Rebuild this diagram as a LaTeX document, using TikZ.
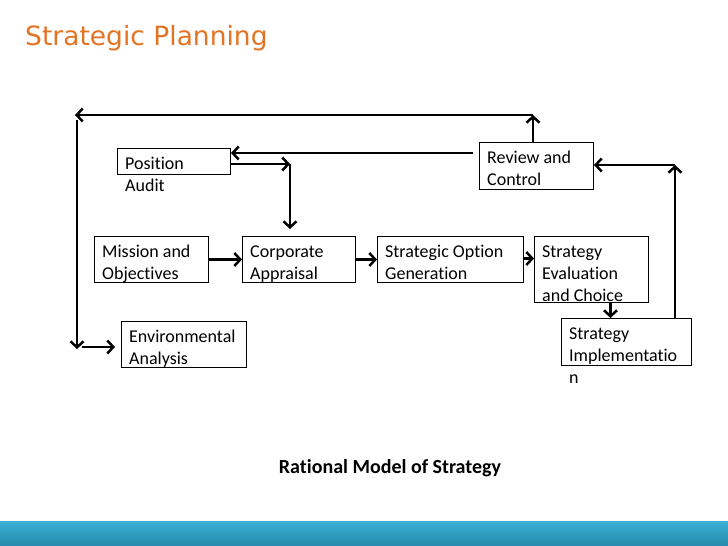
\documentclass[tikz,border=0pt]{standalone}
\usepackage{fontspec}
\setmainfont{Carlito}[Ligatures=CommonOff]
\newfontfamily\titlefont{DejaVu Sans}
\usetikzlibrary{arrows.meta, calc}
\definecolor{titleorange}{RGB}{228,116,36}
\definecolor{barlight}{RGB}{58,178,214}
\definecolor{bardark}{RGB}{38,138,172}
\newcommand{\boxfont}{\fontsize{18}{22}\selectfont}
\newcommand{\ftop}{\rule{0pt}{15pt}}
\tikzset{
  box/.style={draw, line width=1pt, anchor=north west, inner sep=0pt},
  boxtxt/.style={font=\boxfont, align=left, inner sep=0pt, anchor=north west, xshift=8pt, yshift=-6pt},
  arr/.style={line width=2.5pt, -{Straight Barb[length=6pt, width=13pt, line width=2.5pt]}}
}
\begin{document}
\begin{tikzpicture}[x=1pt, y=-1pt]
  \useasboundingbox (0,0) rectangle (728,546);
  \fill[white] (0,0) rectangle (728,546);
  \shade[top color=barlight, bottom color=bardark] (0,521) rectangle (728,546);

  \node[anchor=base west, inner sep=0pt, text=titleorange, font=\titlefont\fontsize{26.5}{32}\selectfont] (title) at (25,45) {Strategic Planning};

  \node[box, minimum width=113pt, minimum height=26pt, label={[boxtxt]north west:\ftop Position\\Audit}] (pa) at (117,148) {};
  \node[box, minimum width=114pt, minimum height=47pt, label={[boxtxt]north west:\ftop Review and\\Control}] (rc) at (479,142) {};
  \node[box, minimum width=114pt, minimum height=46pt, label={[boxtxt]north west:\ftop Mission and\\Objectives}] (mo) at (94,236) {};
  \node[box, minimum width=113pt, minimum height=46pt, label={[boxtxt]north west:\ftop Corporate\\Appraisal}] (ca) at (242,236) {};
  \node[box, minimum width=146pt, minimum height=46pt, label={[boxtxt]north west:\ftop Strategic Option\\Generation}] (sog) at (377,236) {};
  \node[box, minimum width=114pt, minimum height=66pt, label={[boxtxt]north west:\ftop Strategy\\Evaluation\\and Choice}] (sec) at (534,236) {};
  \node[box, minimum width=125pt, minimum height=46pt, label={[boxtxt]north west:\ftop Environmental\\Analysis}] (ea) at (121,321) {};
  \node[box, minimum width=130pt, minimum height=47pt, label={[boxtxt]north west:\ftop Strategy\\Implementatio\\n}] (im) at (561,318) {};

  \node[anchor=base, inner sep=0pt, font=\bfseries\fontsize{20}{24}\selectfont] (caption) at (390,473) {Rational Model of Strategy};

  \coordinate (tr) at (533,115);
  \coordinate (tl) at (75,115);
  \coordinate (lt) at (77,120);
  \coordinate (lb) at (77,349);
  \coordinate (pc) at (290,164);
  \coordinate (ir) at (675,165);

  \draw[arr] (tr |- rc.north) -- (tr);
  \draw[arr] (tr) -- (tl);
  \draw[arr] (lt) -- (lb);
  \draw[arr, shorten <=5pt, shorten >=6pt] ([yshift=2pt]lb) -- ([yshift=2pt]lb -| ea.west);
  \draw[arr, shorten <=6pt] ($(rc.north west)+(0,11)$) -- ($(pa.north east)+(0,5)$);
  \draw[arr] ($(pa.north east)+(0,16)$) -- (pc);
  \draw[arr, shorten >=7pt] (pc) -- (pc |- ca.north);
  \draw[arr] (mo) -- (ca);
  \draw[arr] (ca) -- (sog);
  \draw[arr] ([yshift=1pt]sog.east) -- ([yshift=1pt]sog.east -| sec.west);
  \draw[arr] ([xshift=19pt]sec.south) -- ([xshift=19pt]sec.south |- im.north);
  \draw[arr] (ir |- im.north) -- (ir);
  \draw[arr] (ir) -- (ir -| rc.east);
\end{tikzpicture}
\end{document}
